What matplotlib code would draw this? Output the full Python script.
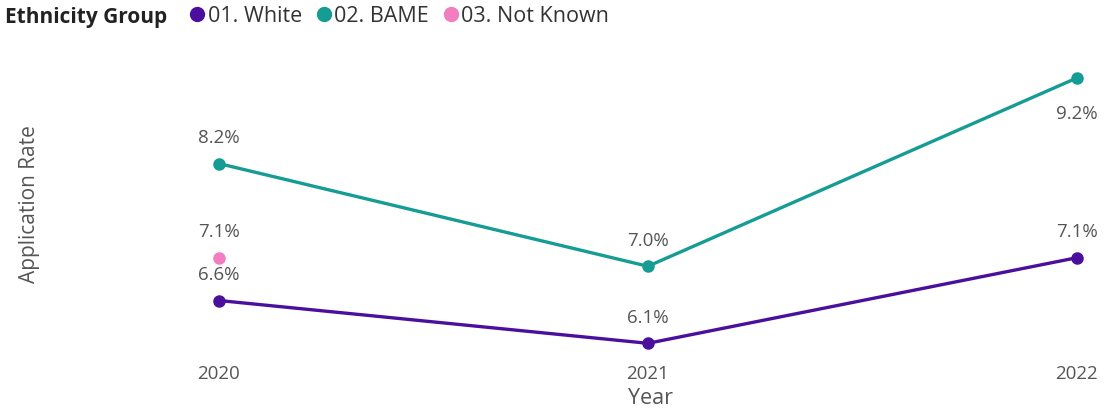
import matplotlib.pyplot as plt
from matplotlib.lines import Line2D

plt.rcParams['font.family'] = ['Open Sans', 'DejaVu Sans']

years = ["2020", "2021", "2022"]
white = [6.6, 6.1, 7.1]
bame = [8.2, 7.0, 9.2]
not_known_years = ["2020"]
not_known = [7.1]

series_names = ["01. White", "02. BAME", "03. Not Known"]
colors = ["#4b0f9e", "#159c94", "#f27dbf"]

# label placement per point: +1 above, -1 below
bame_label_side = [1, 1, -1]
white_label_side = [1, 1, 1]

fig = plt.figure(figsize=(11.15, 4.14), dpi=100)
ax = fig.add_axes([140 / 1115, 1 - 358 / 414, 960 / 1115, 303 / 414])

xpos = list(range(len(years)))
ax.plot(xpos, white, color=colors[0], lw=2.4, marker="o", ms=8, zorder=3)
ax.plot(xpos, bame, color=colors[1], lw=2.4, marker="o", ms=8, zorder=3)
ax.plot([years.index(y) for y in not_known_years], not_known, color=colors[2],
        ls="none", marker="o", ms=8, zorder=3)

text_grey = "#555555"
label_kw = dict(textcoords="offset points", ha="center", va="center",
                fontsize=13.5, color=text_grey)
for x, v, s in zip(xpos, bame, bame_label_side):
    ax.annotate(f"{v:.1f}%", (x, v), xytext=(0, 19 if s > 0 else -25), **label_kw)
for x, v, s in zip(xpos, white, white_label_side):
    ax.annotate(f"{v:.1f}%", (x, v), xytext=(0, 19 if s > 0 else -25), **label_kw)
for y, v in zip(not_known_years, not_known):
    ax.annotate(f"{v:.1f}%", (years.index(y), v), xytext=(0, 19), **label_kw)

ax.set_xlim(-0.184, 2.054)
ax.set_ylim(5.94, 9.48)
ax.set_xticks(xpos)
ax.set_xticklabels(years, fontsize=13.5, color=text_grey)
ax.set_yticks([])
ax.tick_params(axis="x", length=0, pad=5)
for sp in ax.spines.values():
    sp.set_visible(False)

ax.set_xlabel("Year", fontsize=15.5, color=text_grey)
ax.xaxis.set_label_coords((651 - 140) / 960, -0.1)
fig.text(30 / 1115, 1 - 204 / 414, "Application Rate", rotation=90,
         ha="center", va="center", fontsize=15, color=text_grey)

# legend: bold title inline with the entries
fig.text(5 / 1115, 1 - 17 / 414, "Ethnicity Group", ha="left", va="center",
         fontsize=15, fontweight="bold", color="#222222")
handles = [Line2D([], [], ls="none", marker="o", ms=10, color=c) for c in colors]
fig.legend(handles, series_names, loc="center left",
           bbox_to_anchor=(183 / 1115, 1 - 17 / 414), ncol=3, frameon=False,
           fontsize=15.5, handletextpad=-0.15, columnspacing=0.35,
           handlelength=1.3, borderpad=0, borderaxespad=0,
           labelcolor="#333333")

fig.savefig("out.png", dpi=100)
